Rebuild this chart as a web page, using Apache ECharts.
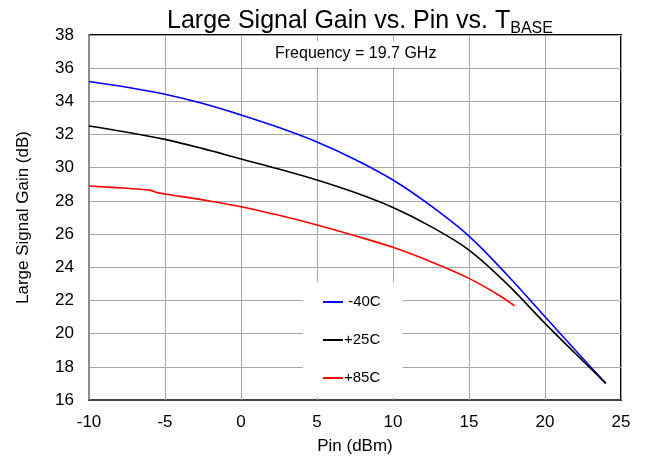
<!DOCTYPE html>
<html>
<head>
<meta charset="utf-8">
<script src="https://cdn.jsdelivr.net/npm/echarts@6/dist/echarts.min.js"></script>
<style>html,body{margin:0;padding:0;background:#fff}#c{width:647px;height:463px}</style>
</head>
<body>
<div id="c"></div>
<script>
var xTicks = [-10, -5, 0, 5, 10, 15, 20, 25];
var yTicks = [16, 18, 20, 22, 24, 26, 28, 30, 32, 34, 36, 38];
var seriesNames = ['-40C', '+25C', '+85C'];
var pinBlue  = [-10, -7.5, -5, -2.5, 0, 2.5, 5, 7.5, 10, 12.5, 15, 17.5, 20, 22, 24];
var gainM40  = [35.2, 34.85, 34.43, 33.87, 33.18, 32.42, 31.55, 30.5, 29.26, 27.7, 25.88, 23.55, 21.02, 19.0, 17.0];
var pinBlack = [-10, -7.5, -5, -2.5, 0, 2.5, 5, 7.5, 10, 12.5, 15, 17.5, 20, 22, 24];
var gainP25  = [32.51, 32.14, 31.71, 31.15, 30.53, 29.92, 29.26, 28.5, 27.6, 26.45, 25.04, 23.0, 20.62, 18.8, 17.0];
var pinRed   = [-10, -7.5, -6, -5.5, -5, -2.5, 0, 2.5, 5, 7.5, 10, 12.5, 15, 17, 18];
var gainP85  = [28.9, 28.76, 28.65, 28.5, 28.42, 28.06, 27.65, 27.13, 26.55, 25.9, 25.2, 24.33, 23.33, 22.3, 21.67];

function pairs(xs, ys) { return xs.map(function (x, i) { return [x, ys[i]]; }); }

var chart = echarts.init(document.getElementById('c'));
var font = 'Liberation Sans, Arial, sans-serif';
chart.setOption({
  animation: false,
  title: {
    text: '{a|Large Signal Gain vs. Pin vs. T}{b|BASE}',
    left: 355, textAlign: 'center', top: -1,
    textStyle: {
      rich: {
        a: { fontFamily: font, fontSize: 25, fontWeight: 'normal', color: '#000', lineHeight: 30, verticalAlign: 'bottom' },
        b: { fontFamily: font, fontSize: 16, fontWeight: 'normal', color: '#000', lineHeight: 30, verticalAlign: 'bottom', padding: [0, 0, -3, 0] }
      }
    }
  },
  grid: { left: 89, right: 26, top: 35, bottom: 63, show: true, borderColor: '#000', borderWidth: 2, backgroundColor: 'transparent' },
  legend: {
    data: seriesNames,
    orient: 'vertical',
    left: 303, top: 282,
    backgroundColor: '#fff',
    padding: [11, 22, 11, 20],
    itemWidth: 20, itemHeight: 2, itemGap: 20,
    icon: 'rect',
    formatter: function (n) { return n === '-40C' ? ' -40C' : n; },
    textStyle: { fontFamily: font, fontSize: 15, color: '#000', lineHeight: 18, padding: [0, 0, 0, -4] }
  },
  xAxis: {
    type: 'value', min: xTicks[0], max: xTicks[xTicks.length - 1], interval: 5,
    name: 'Pin (dBm)', nameLocation: 'middle', nameGap: 38,
    nameTextStyle: { fontFamily: font, fontSize: 17, color: '#000' },
    axisLine: { show: true, onZero: false, lineStyle: { color: '#444', width: 2 } },
    axisTick: { show: true, inside: true, length: 5, lineStyle: { color: '#999' } },
    axisLabel: { fontFamily: font, fontSize: 17, color: '#000', margin: 14 },
    splitLine: { show: true, lineStyle: { color: '#a6a6a6', width: 1 } }
  },
  yAxis: {
    type: 'value', min: yTicks[0], max: yTicks[yTicks.length - 1], interval: 2,
    name: 'Large Signal Gain (dB)', nameLocation: 'middle', nameGap: 57,
    nameTextStyle: { fontFamily: font, fontSize: 17, color: '#000' },
    axisLine: { show: true, onZero: false, lineStyle: { color: '#8c8c8c', width: 2 } },
    axisTick: { show: false },
    axisLabel: { fontFamily: font, fontSize: 17, color: '#000', margin: 15 },
    splitLine: { show: true, lineStyle: { color: '#a6a6a6', width: 1 } }
  },
  graphic: [{
    type: 'text', left: 265, top: 41, z: 50,
    style: { text: 'Frequency = 19.7 GHz', font: '16px ' + font, fill: '#000', backgroundColor: '#fff', padding: [5, 10, 5, 10] }
  }],
  series: [
    { name: '-40C', type: 'line', data: pairs(pinBlue, gainM40), smooth: 0.35, showSymbol: false, lineStyle: { color: '#0000ff', width: 1.6 }, itemStyle: { color: '#0000ff' }, z: 3 },
    { name: '+25C', type: 'line', data: pairs(pinBlack, gainP25), smooth: 0.35, showSymbol: false, lineStyle: { color: '#000', width: 1.6 }, itemStyle: { color: '#000' }, z: 4 },
    { name: '+85C', type: 'line', data: pairs(pinRed, gainP85), smooth: 0.35, showSymbol: false, lineStyle: { color: '#ff0000', width: 1.6 }, itemStyle: { color: '#ff0000' }, z: 2 }
  ]
});
</script>
</body>
</html>
